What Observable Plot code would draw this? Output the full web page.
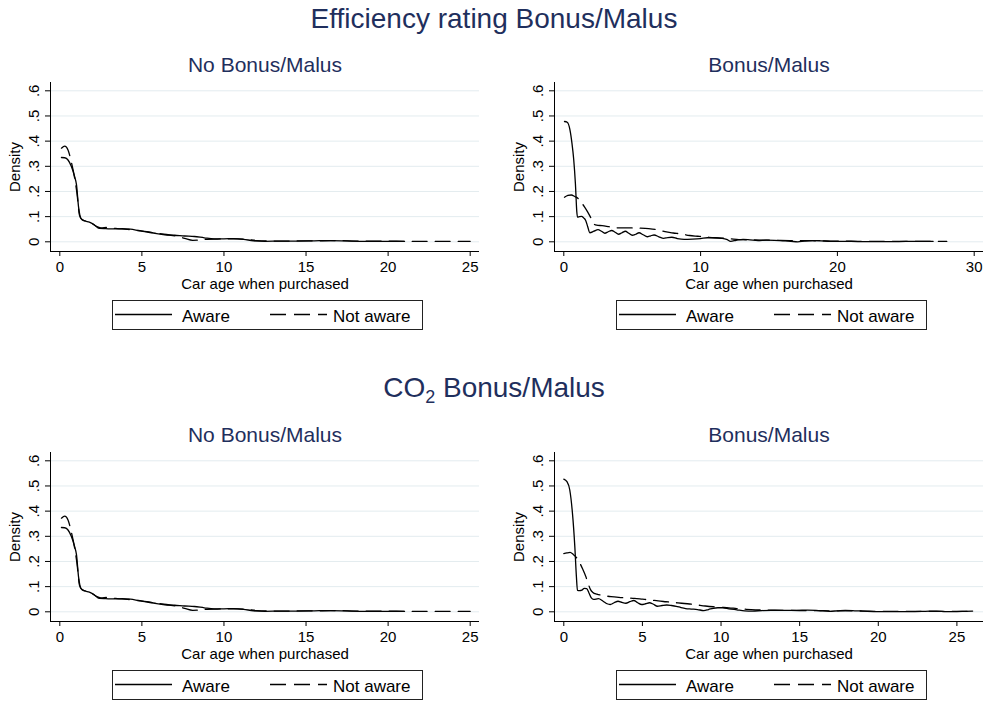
<!DOCTYPE html>
<html>
<head>
<meta charset="utf-8">
<script src="https://cdn.jsdelivr.net/npm/d3@7"></script>
<script src="https://cdn.jsdelivr.net/npm/@observablehq/plot@0.6"></script>
<style>
  body { margin: 0; background: #fff; font-family: "Liberation Sans", Arial, sans-serif; }
  #root { position: relative; width: 986px; height: 702px; overflow: hidden; background: #fff; }
  .panel { position: absolute; }
  #overlay { position: absolute; left: 0; top: 0; pointer-events: none; }
</style>
</head>
<body>
<div id="root"></div>
<script>
// ---------------- DATA ----------------
const mainTitles = ["Efficiency rating Bonus/Malus", "CO2 Bonus/Malus"];
const panelTitles = ["No Bonus/Malus", "Bonus/Malus"];
const seriesNames = ["Aware", "Not aware"];
const xLabel = "Car age when purchased";
const yLabel = "Density";
const yTicks = [0, 0.1, 0.2, 0.3, 0.4, 0.5, 0.6];
const xTicksEffNo = [0, 5, 10, 15, 20, 25];
const xTicksEffBM = [0, 10, 20, 30];
const xTicksCo2No = [0, 5, 10, 15, 20, 25];
const xTicksCo2BM = [0, 5, 10, 15, 20, 25];
const xMax = [25, 30, 25, 26.1];

// Efficiency rating, No Bonus/Malus
const effNoAware = [[0.1,0.335],[0.3,0.334],[0.5,0.325],[0.7,0.300],[0.9,0.26],[1.02,0.225],[1.14,0.14],[1.3,0.092],[1.5,0.084],[1.8,0.078],[2.1,0.068],[2.4,0.053],[2.8,0.052],[3.3,0.051],[3.8,0.052],[4.3,0.050],[4.8,0.045],[5.3,0.040],[5.8,0.034],[6.4,0.028],[7,0.026],[7.6,0.023],[8.2,0.021],[8.8,0.016],[9.4,0.012],[10,0.012],[10.6,0.013],[11.2,0.010],[11.8,0.004],[12.5,0.002],[13.5,0.003],[14.5,0.003],[15.5,0.004],[16.5,0.005],[17.5,0.004],[18.5,0.002],[19.5,0.002],[20.5,0.002],[21,0.002]];
const effNoNotAware = [[0.1,0.372],[0.3,0.38],[0.5,0.365],[0.7,0.318],[0.9,0.255],[1.05,0.19],[1.2,0.105],[1.35,0.088],[1.6,0.082],[1.9,0.075],[2.2,0.062],[2.5,0.055],[2.9,0.057],[3.4,0.053],[3.9,0.050],[4.4,0.048],[4.9,0.043],[5.4,0.038],[5.9,0.034],[6.5,0.029],[7.1,0.022],[7.6,0.014],[8.1,0.006],[8.5,0.007],[9,0.010],[9.6,0.011],[10.2,0.012],[10.8,0.012],[11.4,0.009],[12,0.005],[13,0.003],[14,0.003],[15,0.004],[16,0.004],[17,0.005],[18,0.003],[19,0.003],[20,0.003],[21,0.002],[22,0.002],[23,0.002],[24,0.002],[25,0.002]];

// Efficiency rating, Bonus/Malus
const effBMAware = [[0.05,0.478],[0.25,0.475],[0.45,0.445],[0.6,0.39],[0.72,0.33],[0.85,0.23],[0.95,0.12],[1.0,0.098],[1.15,0.1],[1.3,0.101],[1.45,0.095],[1.6,0.085],[1.75,0.06],[1.9,0.036],[2.2,0.042],[2.5,0.048],[2.75,0.042],[3.0,0.034],[3.25,0.04],[3.5,0.045],[3.75,0.038],[4.0,0.03],[4.25,0.036],[4.5,0.042],[4.75,0.034],[5.0,0.026],[5.25,0.03],[5.5,0.036],[5.8,0.028],[6.1,0.02],[6.35,0.024],[6.6,0.027],[6.95,0.02],[7.3,0.014],[7.6,0.017],[7.9,0.018],[8.3,0.013],[8.8,0.01],[9.4,0.011],[10,0.013],[10.5,0.016],[11,0.016],[11.5,0.014],[11.9,0.01],[12.2,0.002],[12.6,0.006],[13.1,0.01],[13.6,0.008],[14.2,0.005],[14.8,0.007],[15.4,0.006],[16,0.004],[16.6,0.002],[17.1,0.0],[17.6,0.003],[18.2,0.005],[18.8,0.004],[19.5,0.002],[20.5,0.002],[21.5,0.001],[22.5,0.001],[23.5,0.001],[24.5,0.001],[25.5,0.002],[26.3,0.002],[27,0.002]];
const effBMNotAware = [[0.05,0.177],[0.3,0.184],[0.55,0.186],[0.8,0.18],[1.05,0.172],[1.3,0.155],[1.5,0.14],[1.75,0.118],[1.95,0.098],[2.15,0.072],[2.4,0.066],[2.8,0.064],[3.3,0.06],[3.8,0.056],[4.4,0.055],[5,0.055],[5.6,0.054],[6.2,0.052],[6.8,0.048],[7.4,0.04],[8,0.035],[8.6,0.031],[9.2,0.025],[9.8,0.022],[10.4,0.019],[11,0.016],[11.6,0.015],[12.2,0.012],[12.8,0.009],[13.6,0.008],[14.5,0.007],[15.5,0.006],[16.5,0.005],[17.5,0.005],[18.5,0.004],[19.5,0.003],[20.5,0.003],[21.5,0.002],[22.5,0.002],[23.5,0.002],[24.5,0.002],[25.5,0.002],[26.5,0.002],[27.3,0.002],[28,0.002]];

// CO2, No Bonus/Malus
const co2NoAware = [[0.1,0.335],[0.3,0.334],[0.5,0.325],[0.7,0.300],[0.9,0.26],[1.02,0.225],[1.14,0.14],[1.3,0.092],[1.5,0.084],[1.8,0.078],[2.1,0.068],[2.4,0.053],[2.8,0.052],[3.3,0.051],[3.8,0.052],[4.3,0.050],[4.8,0.045],[5.3,0.040],[5.8,0.034],[6.4,0.028],[7,0.026],[7.6,0.023],[8.2,0.021],[8.8,0.016],[9.4,0.012],[10,0.012],[10.6,0.013],[11.2,0.010],[11.8,0.004],[12.5,0.002],[13.5,0.003],[14.5,0.003],[15.5,0.004],[16.5,0.005],[17.5,0.004],[18.5,0.002],[19.5,0.002],[20.5,0.002],[21,0.002]];
const co2NoNotAware = [[0.1,0.372],[0.3,0.38],[0.5,0.365],[0.7,0.318],[0.9,0.255],[1.05,0.19],[1.2,0.105],[1.35,0.088],[1.6,0.082],[1.9,0.075],[2.2,0.062],[2.5,0.055],[2.9,0.057],[3.4,0.053],[3.9,0.050],[4.4,0.048],[4.9,0.043],[5.4,0.038],[5.9,0.034],[6.5,0.029],[7.1,0.022],[7.6,0.014],[8.1,0.006],[8.5,0.007],[9,0.010],[9.6,0.011],[10.2,0.012],[10.8,0.012],[11.4,0.009],[12,0.005],[13,0.003],[14,0.003],[15,0.004],[16,0.004],[17,0.005],[18,0.003],[19,0.003],[20,0.003],[21,0.002],[22,0.002],[23,0.002],[24,0.002],[25,0.002]];

// CO2, Bonus/Malus
const co2BMAware = [[0,0.527],[0.2,0.517],[0.38,0.484],[0.55,0.392],[0.7,0.26],[0.8,0.141],[0.87,0.085],[1.0,0.084],[1.15,0.086],[1.3,0.093],[1.45,0.092],[1.6,0.075],[1.75,0.055],[1.9,0.049],[2.2,0.052],[2.5,0.042],[2.75,0.032],[2.95,0.029],[3.2,0.036],[3.45,0.042],[3.7,0.037],[3.95,0.034],[4.2,0.04],[4.45,0.045],[4.7,0.036],[4.95,0.029],[5.2,0.032],[5.45,0.036],[5.7,0.03],[5.95,0.022],[6.25,0.025],[6.55,0.027],[6.85,0.025],[7.15,0.022],[7.45,0.017],[7.75,0.013],[8.1,0.011],[8.5,0.009],[8.9,0.005],[9.2,0.009],[9.5,0.014],[9.8,0.016],[10.1,0.016],[10.5,0.012],[11,0.008],[11.5,0.004],[12,0.003],[12.6,0.005],[13.2,0.006],[14,0.006],[14.8,0.006],[15.5,0.007],[16.2,0.005],[16.9,0.002],[17.4,0.004],[17.9,0.006],[18.6,0.004],[19.3,0.002],[20,0.001],[21,0.001],[22,0.001],[23,0.002],[23.7,0.003],[24.3,0.001],[25,0.001],[25.5,0.002],[26,0.003]];
const co2BMNotAware = [[0,0.231],[0.2,0.234],[0.4,0.236],[0.6,0.228],[0.8,0.216],[1.0,0.196],[1.2,0.17],[1.4,0.14],[1.55,0.112],[1.7,0.088],[1.85,0.077],[2.1,0.07],[2.5,0.065],[3,0.06],[3.5,0.057],[4,0.055],[4.5,0.053],[5,0.05],[5.5,0.047],[6,0.043],[6.5,0.04],[7,0.037],[7.5,0.034],[8,0.031],[8.5,0.027],[9,0.023],[9.5,0.02],[10,0.018],[10.5,0.016],[11,0.013],[11.6,0.01],[12.2,0.008],[13,0.007],[14,0.006],[15,0.005],[16,0.005],[17,0.004],[18,0.004],[19,0.003],[20,0.002],[21,0.002],[22,0.002],[23,0.002],[24,0.002],[25,0.002],[26,0.002]];

// ---------------- LAYOUT ----------------
const FONT = '"Liberation Sans", Arial, sans-serif';
const TITLE_COLOR = "#1f2f5d";
const GRID_COLOR = "#e3ecef";
const DASH = "15,8";
const FRAME_W = 429, FRAME_H = 169;
const PAD_X = 9.3, PAD_TOP = 8.3, PAD_BOTTOM = 9.7;
const ML = 50, MT = 10, MB = 40;

const panels = [
  {aware: effNoAware, notAware: effNoNotAware, xmax: xMax[0], xticks: xTicksEffNo, left: 0,   top: 72,  title: panelTitles[0]},
  {aware: effBMAware, notAware: effBMNotAware, xmax: xMax[1], xticks: xTicksEffBM, left: 504, top: 72,  title: panelTitles[1]},
  {aware: co2NoAware, notAware: co2NoNotAware, xmax: xMax[2], xticks: xTicksCo2No, left: 0,   top: 442, title: panelTitles[0]},
  {aware: co2BMAware, notAware: co2BMNotAware, xmax: xMax[3], xticks: xTicksCo2BM, left: 504, top: 442, title: panelTitles[1]}
];

const root = document.getElementById("root");
const yFmt = d => d === 0 ? "0" : String(d).replace(/^0/, "");

for (const p of panels) {
  const kx = (FRAME_W - 2 * PAD_X) / p.xmax;
  const ky = (FRAME_H - PAD_TOP - PAD_BOTTOM) / 0.6;
  const xdom = [-PAD_X / kx, p.xmax + PAD_X / kx];
  const ydom = [-PAD_BOTTOM / ky, 0.6 + PAD_TOP / ky];
  const mr = p.left === 0 ? 14 : 3;
  const chart = Plot.plot({
    width: ML + FRAME_W + mr,
    height: MT + FRAME_H + MB,
    marginLeft: ML, marginRight: mr, marginTop: MT, marginBottom: MB,
    x: {domain: xdom},
    y: {domain: ydom},
    style: {fontFamily: FONT, fontSize: "15px", color: "black", background: "transparent", overflow: "visible"},
    marks: [
      Plot.gridY(yTicks, {stroke: GRID_COLOR, strokeOpacity: 1, strokeWidth: 1}),
      Plot.ruleX([xdom[0]], {stroke: "black", strokeWidth: 1}),
      Plot.ruleY([ydom[0]], {stroke: "black", strokeWidth: 1}),
      Plot.line(p.notAware, {x: d => d[0], y: d => d[1], stroke: "black", strokeWidth: 1.3, strokeDasharray: DASH, curve: "monotone-x"}),
      Plot.line(p.aware, {x: d => d[0], y: d => d[1], stroke: "black", strokeWidth: 1.3, curve: "monotone-x"}),
      Plot.axisX({ticks: p.xticks, tickSize: 5, tickPadding: 5, tickFormat: d => String(d),
        label: xLabel, labelAnchor: "center", labelOffset: 37, labelArrow: "none"}),
      Plot.axisY({ticks: yTicks, tickSize: 5, tickPadding: 7, tickRotate: -90, tickFormat: yFmt,
        label: yLabel, labelAnchor: "center", labelOffset: 41, labelArrow: "none"})
    ]
  });
  const wrap = document.createElement("div");
  wrap.className = "panel";
  wrap.style.left = p.left + "px";
  wrap.style.top = p.top + "px";
  wrap.appendChild(chart);
  root.appendChild(wrap);
}

// ---------------- TITLES AND LEGENDS (overlay) ----------------
const NS = "http://www.w3.org/2000/svg";
const overlay = document.createElementNS(NS, "svg");
overlay.setAttribute("id", "overlay");
overlay.setAttribute("width", 986);
overlay.setAttribute("height", 702);
root.appendChild(overlay);

function el(tag, attrs, parent) {
  const e = document.createElementNS(NS, tag);
  for (const k in attrs) e.setAttribute(k, attrs[k]);
  (parent || overlay).appendChild(e);
  return e;
}
function text(str, attrs, parent) {
  const t = el("text", Object.assign({"font-family": FONT}, attrs), parent);
  t.textContent = str;
  return t;
}

// Main titles
text(mainTitles[0], {x: 494, y: 27.7, "text-anchor": "middle", "font-size": 28, fill: TITLE_COLOR});
{
  const t = el("text", {x: 494, y: 396.7, "text-anchor": "middle", "font-size": 28, fill: TITLE_COLOR, "font-family": FONT});
  const parts = mainTitles[1].split(/(2)/); // "CO", "2", " Bonus/Malus"
  const a = el("tspan", {}, t); a.textContent = parts[0];
  const b = el("tspan", {"font-size": 18, dy: 6}, t); b.textContent = parts[1];
  const c = el("tspan", {dy: -6}, t); c.textContent = parts[2];
}

for (const p of panels) {
  const frameLeft = p.left + ML + 0.5;
  const frameTop = p.top + MT;
  const cx = frameLeft + FRAME_W / 2;
  // Panel title
  text(p.title, {x: cx, y: frameTop - 9.8, "text-anchor": "middle", "font-size": 21, fill: TITLE_COLOR});
  // Legend
  const bx = frameLeft + 61.5, by = frameTop + 218, bw = 310, bh = 29;
  el("rect", {x: bx + 0.5, y: by + 0.5, width: bw, height: bh, fill: "white", stroke: "#222", "stroke-width": 1});
  const ly = by + 14.5;
  el("line", {x1: bx + 3, x2: bx + 60, y1: ly, y2: ly, stroke: "black", "stroke-width": 1.3});
  text(seriesNames[0], {x: bx + 70, y: by + 21.5, "font-size": 17, fill: "black"});
  el("line", {x1: bx + 158, x2: bx + 215, y1: ly, y2: ly, stroke: "black", "stroke-width": 1.3, "stroke-dasharray": "16,8"});
  text(seriesNames[1], {x: bx + 221, y: by + 21.5, "font-size": 17, fill: "black"});
}
</script>
</body>
</html>
